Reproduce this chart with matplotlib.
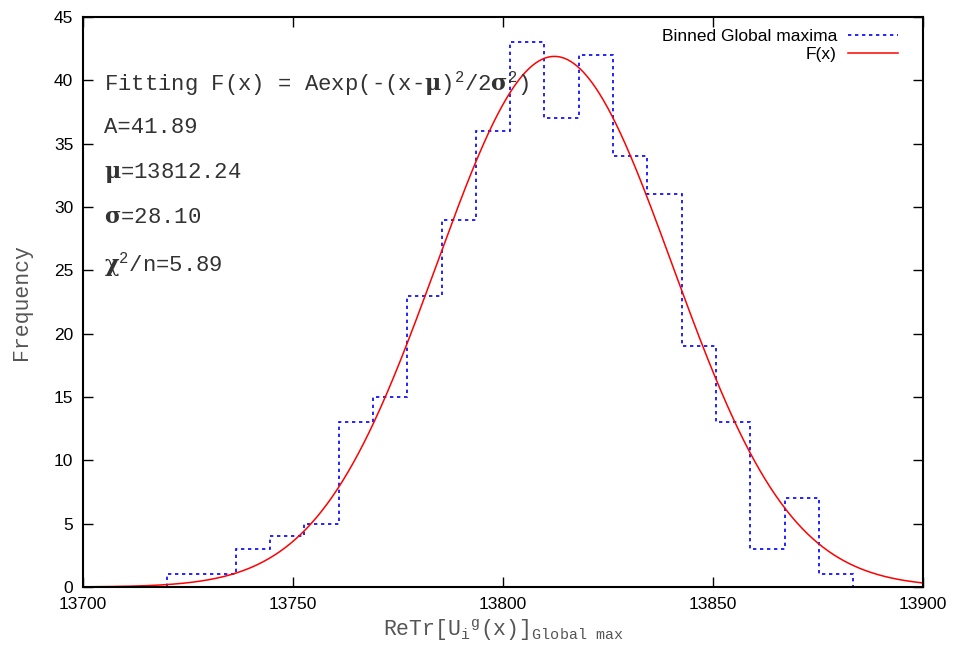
import numpy as np
import matplotlib
matplotlib.use("Agg")
import matplotlib.pyplot as plt

# ---- data ----
bin_start = 13720.0
bin_width = 8.17
counts = [1, 1, 3, 4, 5, 13, 15, 23, 29, 36, 43, 37, 42, 34, 31, 19, 13, 3, 7, 1]
fit_A = 41.89
fit_mu = 13812.24
fit_sigma = 28.10
fit_chi2n = 5.89
xticks = [13700, 13750, 13800, 13850, 13900]
yticks = [0, 5, 10, 15, 20, 25, 30, 35, 40, 45]

plt.rcParams['mathtext.fontset'] = 'custom'
plt.rcParams['mathtext.rm'] = 'Liberation Mono'
plt.rcParams['mathtext.tt'] = 'Liberation Mono'
plt.rcParams['mathtext.it'] = 'Liberation Mono'
plt.rcParams['mathtext.bf'] = 'DejaVu Serif:bold'

fig = plt.figure(figsize=(9.56, 6.52), dpi=100)
ax = fig.add_axes([83/956, 65/652, 840/956, 570/652])

edges = bin_start + bin_width * np.arange(len(counts) + 1)
ax.stairs(counts, edges, baseline=0, color='#0000ff', lw=1.2,
          linestyle=(0, (2, 2.2)), label='Binned Global maxima')

xs = np.linspace(xticks[0], xticks[-1], 800)
F = fit_A * np.exp(-(xs - fit_mu) ** 2 / (2 * fit_sigma ** 2))
ax.plot(xs, F, color='#ff0000', lw=1.1, label='F(x)')

ax.set_xlim(xticks[0], xticks[-1])
ax.set_ylim(yticks[0], yticks[-1])
ax.set_xticks(xticks)
ax.set_yticks(yticks)
ax.tick_params(direction='in', length=7, width=1, top=True, right=True,
               labelsize=12.5, pad=7)
for lab in ax.get_xticklabels() + ax.get_yticklabels():
    lab.set_family('Liberation Sans')
for s in ax.spines.values():
    s.set_linewidth(1.5)

ax.set_ylabel('Frequency', family='Liberation Mono', fontsize=15.5,
              color='#555555', labelpad=16)
ax.set_xlabel(r'$\text{ReTr[U}_{i}{}^{g}\text{(x)]}_{\text{Global max}}$',
              fontsize=15.5, color='#555555', labelpad=4)

tc = '#333333'
fs = 16
def ytr(py):
    return (587 - py) / 570.0

ax.text(0.025, ytr(90),
        r'$\text{Fitting F(x) = Aexp(-(x-}\mathbf{\mu}\text{)}^{2}\text{/2}\mathbf{\sigma}^{2}\text{)}$',
        transform=ax.transAxes, fontsize=fs, color=tc, va='baseline')
ax.text(0.025, ytr(133), 'A=%.2f' % fit_A, transform=ax.transAxes,
        fontsize=fs, color=tc, va='baseline', family='Liberation Mono')
ax.text(0.025, ytr(178), r'$\mathbf{\mu}\text{=%.2f}$' % fit_mu,
        transform=ax.transAxes, fontsize=fs, color=tc, va='baseline')
ax.text(0.025, ytr(223), r'$\mathbf{\sigma}\text{=%.2f}$' % fit_sigma,
        transform=ax.transAxes, fontsize=fs, color=tc, va='baseline')
ax.text(0.025, ytr(271), r'$\mathbf{\chi}^{2}\text{/n=%.2f}$' % fit_chi2n,
        transform=ax.transAxes, fontsize=fs, color=tc, va='baseline')

leg = ax.legend(loc='upper right', frameon=False, markerfirst=False,
                prop={'family': 'Liberation Sans', 'size': 12.5},
                handlelength=2.9, handletextpad=0.63, labelspacing=0.15,
                borderaxespad=0.3, bbox_to_anchor=(0.985, 1.0))

fig.savefig('out.png', dpi=100)
